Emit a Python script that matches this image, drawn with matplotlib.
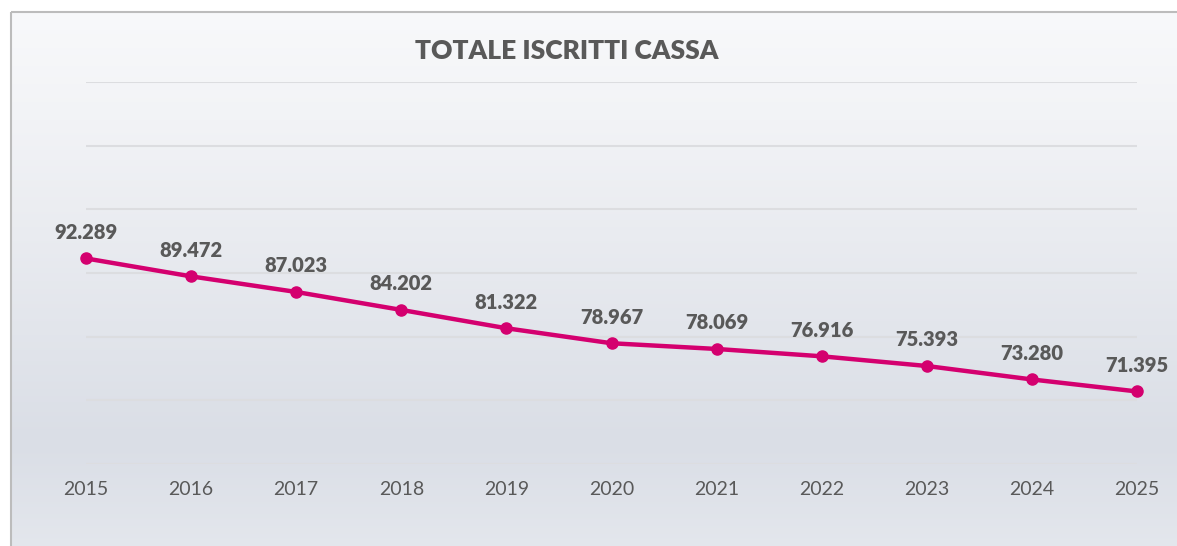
import matplotlib
matplotlib.use("Agg")
import matplotlib.pyplot as plt
import numpy as np
from matplotlib.colors import LinearSegmentedColormap
from matplotlib.patches import Rectangle

plt.rcParams.update({
    "font.family": ["Lato", "DejaVu Sans"],
})

years = [2015, 2016, 2017, 2018, 2019, 2020, 2021, 2022, 2023, 2024, 2025]
iscritti = [92289, 89472, 87023, 84202, 81322, 78967, 78069, 76916, 75393, 73280, 71395]
title = "TOTALE ISCRITTI CASSA"

LINE_COLOR = "#d4006f"
TEXT_COLOR = "#595959"
GRID_COLOR = "#dcdde0"

W, H = 1177, 546
fig = plt.figure(figsize=(W / 100, H / 100), dpi=100)
fig.patch.set_facecolor("white")

# background panel with vertical gradient, framed by a thin grey border
bg = fig.add_axes([0, 0, 1, 1], zorder=0)
bg.set_xlim(0, W)
bg.set_ylim(H, 0)
bg.axis("off")
grad = LinearSegmentedColormap.from_list(
    "bg", [(0.0, "#f8f9fb"), (0.2, "#f2f3f6"), (0.8, "#dadee6"), (1.0, "#e4e7ed")])
bg.imshow(np.linspace(0, 1, 256).reshape(-1, 1), cmap=grad, aspect="auto",
          extent=(11, W + 5, H + 5, 11), zorder=0)
bg.add_patch(Rectangle((10.5, 11.5), W + 10, H + 10, fill=False,
                       edgecolor="#bcbcbc", linewidth=1.5, zorder=1))

ax = fig.add_axes([86 / W, 1 - 464 / H, (1137 - 86) / W, (464 - 82) / H], zorder=1)
ax.patch.set_alpha(0)

ax.plot(years, iscritti, color=LINE_COLOR, linewidth=3.2, marker="o",
        markersize=8, clip_on=False, zorder=3, solid_capstyle="round")

for x, y in zip(years, iscritti):
    lbl = f"{y:,}".replace(",", ".")
    ax.annotate(lbl, (x, y), xytext=(0, 12), textcoords="offset points",
                ha="center", va="bottom", fontsize=14.5, fontweight="heavy",
                color=TEXT_COLOR)

ax.set_xlim(2015, 2025)
ax.set_ylim(60000, 120000)
ax.set_yticks(np.arange(60000, 120001, 10000))
ax.set_yticklabels([])
ax.set_xticks(years)
ax.set_xticklabels([str(y) for y in years], fontsize=14, color=TEXT_COLOR)
ax.tick_params(axis="both", length=0)
ax.tick_params(axis="x", pad=12)
ax.grid(axis="y", color=GRID_COLOR, linewidth=1.5)
ax.set_axisbelow(True)
for s in ax.spines.values():
    s.set_visible(False)

fig.text(567 / W, 1 - 51 / H, title, ha="center", va="center",
         fontsize=19, fontweight="heavy", color=TEXT_COLOR)

fig.savefig("out.png", dpi=100)
